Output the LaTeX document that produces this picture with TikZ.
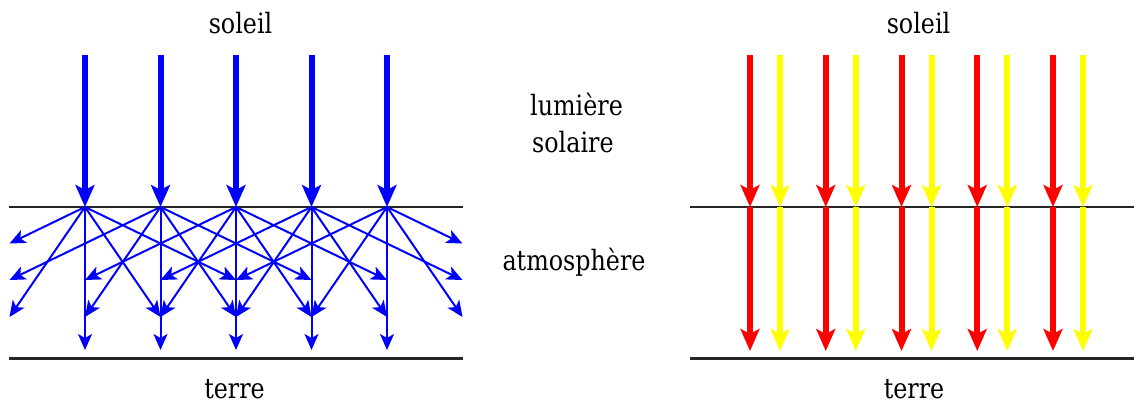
\documentclass[tikz,border=0pt]{standalone}
\usepackage{fontspec}
\setmainfont[FakeStretch=0.85]{DejaVu Serif}
\usetikzlibrary{arrows.meta}
\definecolor{sunred}{RGB}{255,0,0}
\definecolor{sunyellow}{RGB}{255,255,0}
\definecolor{skyblue}{RGB}{0,0,255}
\begin{document}
\begin{tikzpicture}[x=1pt,y=-1pt,
  lbl/.style={anchor=base, font=\fontsize{28}{32}\selectfont, inner sep=0pt},
  ground/.style={line width=2.5pt, draw=black!85},
  beam/.style={line width=6pt, -{Stealth[length=22pt,width=19pt,inset=5pt]}},
  ray/.style={draw=skyblue, line width=2pt, -{Stealth[length=16pt,width=14pt,inset=4pt]}},
]
\useasboundingbox (0,0) rectangle (1134,405);

% labels
\node[lbl] (sun1) at (240.5,33) {soleil};
\node[lbl] (sun2) at (918.5,33) {soleil};
\node[lbl] (earth1) at (234.5,398) {terre};
\node[lbl] (earth2) at (914,398) {terre};
\node[lbl, anchor=base west] (lum) at (530,115) {lumière};
\node[lbl, anchor=base west] (sol) at (532,152) {solaire};
\node[lbl] (atm) at (574,270) {atmosphère};

% ground lines
\coordinate (LTa) at (9,207);   \coordinate (LTb) at (463,207);
\coordinate (LBa) at (9,358.5); \coordinate (LBb) at (463,358.5);
\coordinate (RTa) at (690,207); \coordinate (RTb) at (1134,207);
\coordinate (RBa) at (690,358.5); \coordinate (RBb) at (1134,358.5);
\draw[ground] (LTa) -- (LTb);
\draw[ground] (LBa) -- (LBb);
\draw[ground] (RTa) -- (RTb);
\draw[ground] (RBa) -- (RBb);

% left panel: scattering
\foreach \i in {0,...,4}{
  \pgfmathsetmacro{\xx}{85+75.5*\i}
  \coordinate (t\i) at (\xx,55);
  \coordinate (s\i) at (\xx,207);
  \coordinate (v\i) at (\xx,350);
  \coordinate (kl\i) at (\xx-75.5,317);
  \coordinate (kr\i) at (\xx+75.5,317);
}
\coordinate (hl0) at (9.5,243.5);
\coordinate (hl1) at (9.5,280);
\coordinate (hl2) at (85,280);
\coordinate (hl3) at (160.5,280);
\coordinate (hl4) at (236,280);
\coordinate (hr0) at (236,280);
\coordinate (hr1) at (311.5,280);
\coordinate (hr2) at (387,280);
\coordinate (hr3) at (462.5,280);
\coordinate (hr4) at (462.5,243.5);

\foreach \i in {0,...,4}{
  \draw[ray] (s\i) -- (hl\i);
  \draw[ray] (s\i) -- (hr\i);
  \draw[ray] (s\i) -- (kl\i);
  \draw[ray] (s\i) -- (kr\i);
  \draw[ray] (s\i) -- (v\i);
}
\foreach \i in {0,...,4}{
  \draw[beam, draw=skyblue, fill=skyblue] (t\i) -- (s\i);
}

% right panel: direct light
\foreach \j in {0,...,4}{
  \pgfmathsetmacro{\xr}{750+75.75*\j}
  \pgfmathsetmacro{\xy}{780+75.75*\j}
  \coordinate (rt\j) at (\xr,55);
  \coordinate (rm\j) at (\xr,207);
  \coordinate (rb\j) at (\xr,351);
  \coordinate (yt\j) at (\xy,55);
  \coordinate (ym\j) at (\xy,207);
  \coordinate (yb\j) at (\xy,351);
  \draw[beam, draw=sunred] (rt\j) -- (rm\j);
  \draw[beam, draw=sunred] (rm\j) -- (rb\j);
  \draw[beam, draw=sunyellow] (yt\j) -- (ym\j);
  \draw[beam, draw=sunyellow] (ym\j) -- (yb\j);
}
\end{tikzpicture}
\end{document}
